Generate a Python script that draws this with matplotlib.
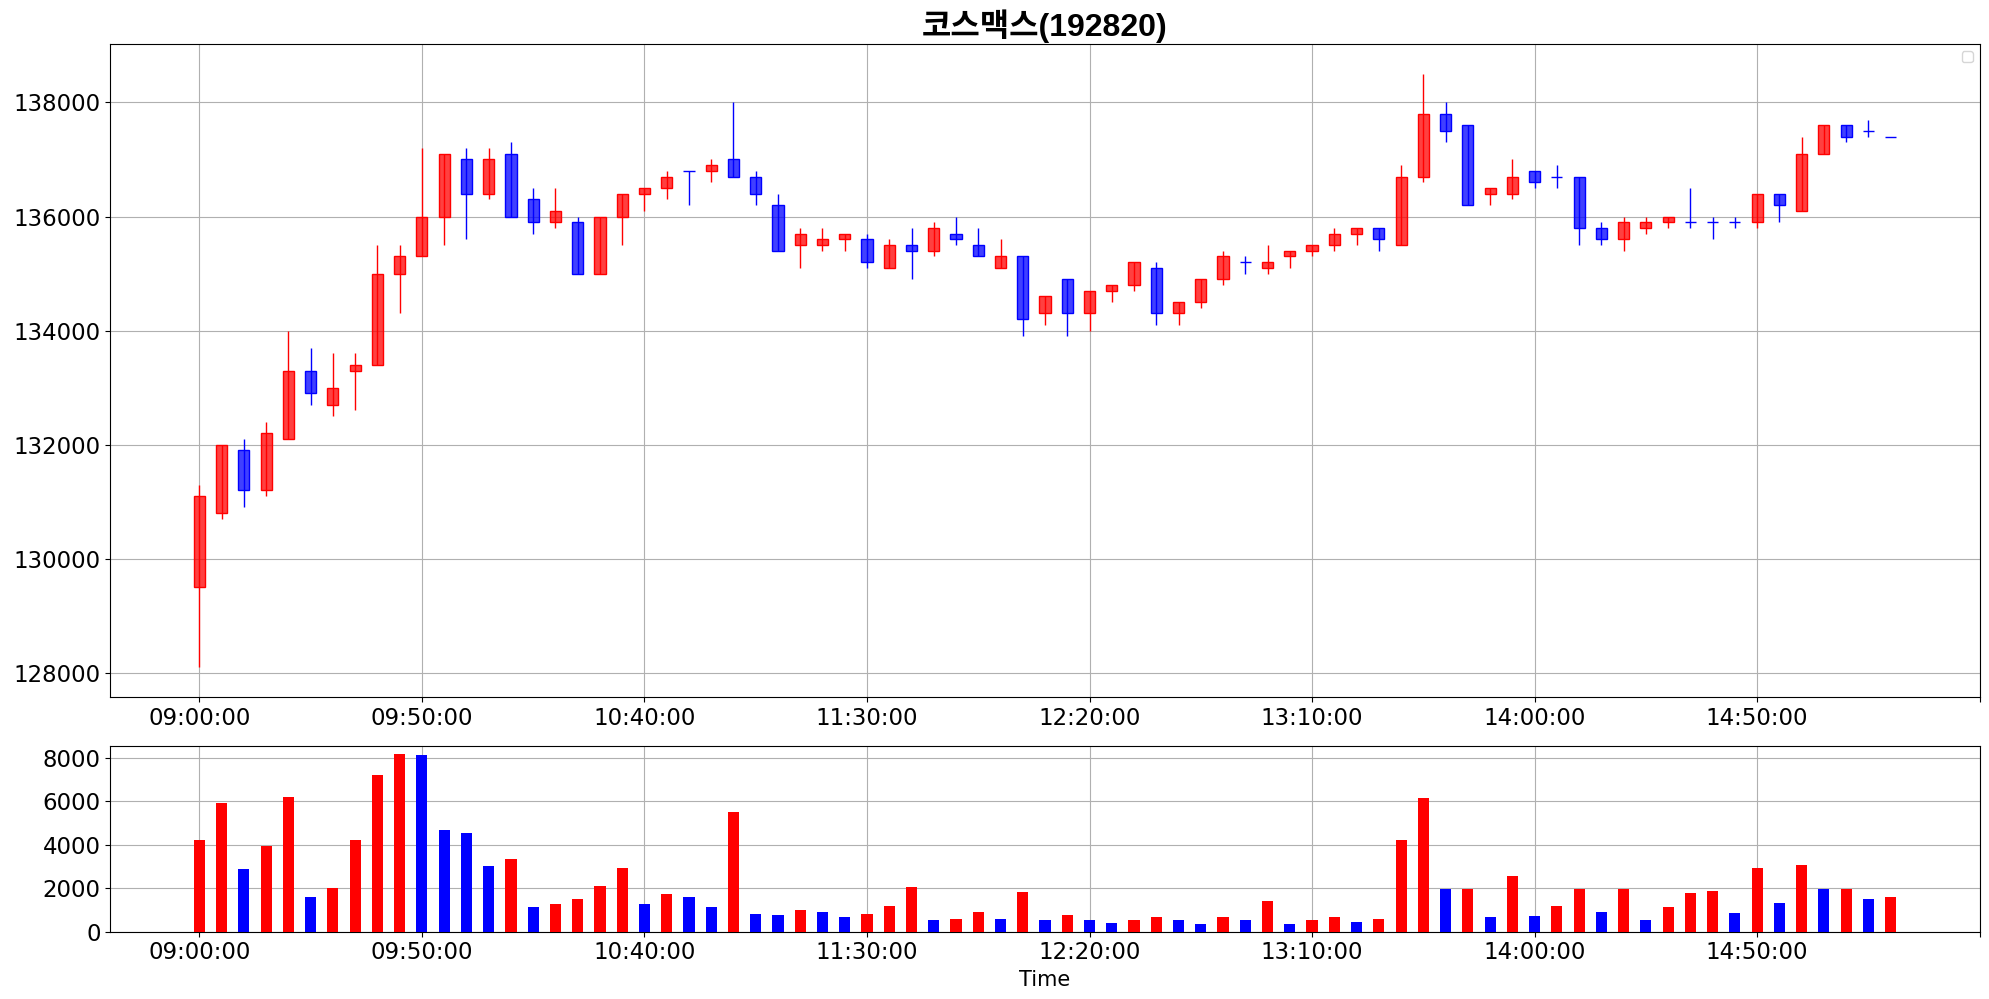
import numpy as np
import pandas as pd
import matplotlib
matplotlib.use('Agg')
import matplotlib.pyplot as plt
from matplotlib.colors import to_rgba

# 5-minute bars, 09:00 ~ 15:20
times = pd.date_range('2024-01-02 09:00', '2024-01-02 15:20', freq='5min').strftime('%H:%M:%S').tolist()

opens = [129500, 130800, 131900, 131200, 132100, 133300, 132700, 133300, 133400, 135000,
         135300, 136000, 137000, 136400, 137100, 136300, 135900, 135900, 135000, 136000,
         136400, 136500, 136800, 136800, 137000, 136700, 136200, 135500, 135500, 135600,
         135600, 135100, 135500, 135400, 135700, 135500, 135100, 135300, 134300, 134900,
         134300, 134700, 134800, 135100, 134300, 134500, 134900, 135200, 135100, 135300,
         135400, 135500, 135700, 135800, 135500, 136700, 137800, 137600, 136400, 136400,
         136800, 136700, 136700, 135800, 135600, 135800, 135900, 135900, 135900, 135900,
         135900, 136400, 136100, 137100, 137600, 137500, 137400]
highs = [131300, 132000, 132100, 132400, 134000, 133700, 133600, 133600, 135500, 135500,
         137200, 137100, 137200, 137200, 137300, 136500, 136500, 136000, 136000, 136400,
         136500, 136800, 136800, 137000, 138000, 136800, 136400, 135800, 135800, 135700,
         135700, 135600, 135800, 135900, 136000, 135800, 135600, 135300, 134600, 134900,
         134700, 134800, 135200, 135200, 134500, 134900, 135400, 135300, 135500, 135400,
         135500, 135800, 135800, 135800, 136900, 138500, 138000, 137600, 136500, 137000,
         136800, 136900, 136700, 135900, 136000, 136000, 136000, 136500, 136000, 136000,
         136400, 136400, 137400, 137600, 137600, 137700, 137400]
lows = [128100, 130700, 130900, 131100, 132100, 132700, 132500, 132600, 133400, 134300,
        135300, 135500, 135600, 136300, 136000, 135700, 135800, 135000, 135000, 135500,
        136100, 136300, 136200, 136600, 136700, 136200, 135400, 135100, 135400, 135400,
        135100, 135100, 134900, 135300, 135500, 135300, 135100, 133900, 134100, 133900,
        134000, 134500, 134700, 134100, 134100, 134400, 134800, 135000, 135000, 135100,
        135300, 135400, 135500, 135400, 135500, 136600, 137300, 136200, 136200, 136300,
        136500, 136500, 135500, 135500, 135400, 135700, 135800, 135800, 135600, 135800,
        135800, 135900, 136100, 137100, 137300, 137400, 137400]
closes = [131100, 132000, 131200, 132200, 133300, 132900, 133000, 133400, 135000, 135300,
          136000, 137100, 136400, 137000, 136000, 135900, 136100, 135000, 136000, 136400,
          136500, 136700, 136800, 136900, 136700, 136400, 135400, 135700, 135600, 135700,
          135200, 135500, 135400, 135800, 135600, 135300, 135300, 134200, 134600, 134300,
          134700, 134800, 135200, 134300, 134500, 134900, 135300, 135200, 135200, 135400,
          135500, 135700, 135800, 135600, 136700, 137800, 137500, 136200, 136500, 136700,
          136600, 136700, 135800, 135600, 135900, 135900, 136000, 135900, 135900, 135900,
          136400, 136200, 137100, 137600, 137400, 137500, 137400]

volumes = [4240, 5940, 2900, 3960, 6220, 1570, 2000, 4240, 7190, 8160,
           8110, 4700, 4560, 3000, 3360, 1150, 1290, 1520, 2120, 2950,
           1290, 1710, 1570, 1150, 5530, 830, 780, 1010, 920, 650,
           830, 1200, 2070, 510, 600, 880, 600, 1800, 510, 780,
           510, 410, 510, 690, 510, 370, 650, 550, 1430, 370,
           510, 690, 460, 600, 4240, 6130, 1980, 1980, 690, 2580,
           740, 1200, 1980, 920, 1980, 550, 1150, 1790, 1890, 870,
           2940, 1330, 3080, 1980, 1980, 1520, 1610]
# 1 = red bar, 0 = blue bar in the volume panel
vol_up = [1, 1, 0, 1, 1, 0, 1, 1, 1, 1,
          0, 0, 0, 0, 1, 0, 1, 1, 1, 1,
          0, 1, 0, 0, 1, 0, 0, 1, 0, 0,
          1, 1, 1, 0, 1, 1, 0, 1, 0, 1,
          0, 0, 1, 1, 0, 0, 1, 0, 1, 0,
          1, 1, 0, 1, 1, 1, 0, 1, 0, 1,
          0, 1, 1, 0, 1, 0, 1, 1, 1, 0,
          1, 0, 1, 0, 1, 0, 1]

x = np.arange(len(times))
o = np.array(opens)
c = np.array(closes)
candle_colors = ['red' if cl > op else 'blue' for op, cl in zip(o, c)]
face_colors = [to_rgba(col, 0.75) for col in candle_colors]
vol_colors = ['red' if v else 'blue' for v in vol_up]

fig = plt.figure(figsize=(19.89, 9.99), dpi=100)
ax1 = fig.add_axes([0.0555, 0.3025, 0.9398, 0.6532])
ax2 = fig.add_axes([0.0555, 0.0675, 0.9398, 0.1862])

ax1.vlines(x, lows, highs, colors=candle_colors, lw=1, zorder=2)
ax1.bar(x, c - o, width=0.5, bottom=o, color=face_colors, edgecolor=candle_colors,
        linewidth=1, zorder=3)
ax1.set_title('코스맥스(192820)', fontsize=23, fontweight='bold',
              family=['Liberation Sans', 'Noto Sans CJK KR'])
ax1.legend(handles=[], loc='upper right')

ax2.bar(x, volumes, width=0.5, color=vol_colors, zorder=3)
ax2.set_yticks(range(0, 8001, 2000))
ax2.set_xlabel('Time', fontsize=15)

tick_pos = list(range(0, 81, 10))
tick_lab = [times[i] if i < len(times) else '' for i in tick_pos]
for ax in (ax1, ax2):
    ax.set_xlim(-4, 80)
    ax.set_xticks(tick_pos)
    ax.set_xticklabels(tick_lab)
    ax.tick_params(labelsize=16.5)
    ax.grid(True)
    ax.set_axisbelow(True)

fig.savefig('out.png', dpi=100)
